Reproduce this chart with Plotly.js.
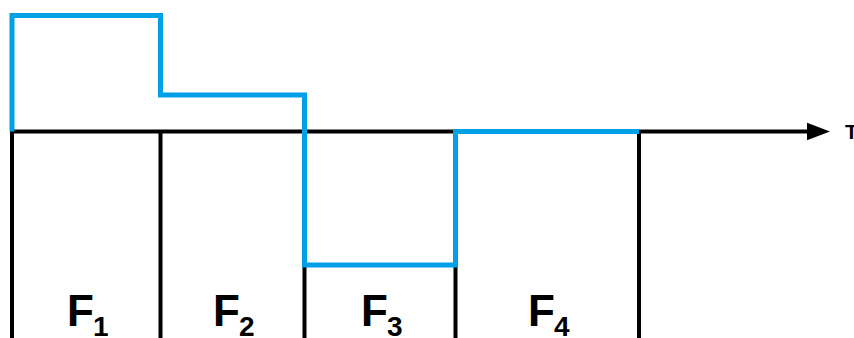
<!DOCTYPE html>
<html>
<head>
<meta charset="utf-8">
<script src="https://cdn.plot.ly/plotly-3.0.1.min.js"></script>
<style>
  html, body { margin: 0; padding: 0; background: #fff; }
  #chart { width: 854px; height: 338px; }
</style>
</head>
<body>
<div id="chart"></div>
<script>
// time boundaries of the four intervals (1 unit ~ 1 px)
var bounds = [0, 148.5, 292.5, 443.5, 627];
// level of the signal in each interval
var levels = [116, 36.5, -133.5, 0];
var labelMain = ['F', 'F', 'F', 'F'];
var labelSub = ['1', '2', '3', '4'];
var axisName = 'T';

// step trace: start on the axis, then one step per interval
var stepX = [bounds[0]].concat(bounds);
var stepY = [0].concat(levels, [levels[levels.length - 1]]);

// vertical separators under the axis
var sepX = [], sepY = [];
bounds.forEach(function(b) {
  sepX.push(b, b, null);
  sepY.push(0, -230, null);
});

var traces = [
  {
    x: sepX, y: sepY,
    mode: 'lines', type: 'scatter',
    line: {color: '#000', width: 4},
    hoverinfo: 'skip'
  },
  {
    x: stepX, y: stepY,
    mode: 'lines', type: 'scatter',
    line: {color: '#00a0e6', width: 5, shape: 'hv'},
    hoverinfo: 'skip'
  }
];

var fontFam = 'Liberation Sans, Arial, sans-serif';
var annotations = [];
labelMain.forEach(function(t, i) {
  var mid = (bounds[i] + bounds[i + 1]) / 2;
  annotations.push({
    x: mid - 6, y: -179, xref: 'x', yref: 'y',
    text: '<b>' + t + '</b>', showarrow: false,
    xanchor: 'center', yanchor: 'middle',
    font: {family: fontFam, size: 44, color: '#000'}
  });
  annotations.push({
    x: mid + 14.5, y: -195, xref: 'x', yref: 'y',
    text: '<b>' + labelSub[i] + '</b>', showarrow: false,
    xanchor: 'center', yanchor: 'middle',
    font: {family: fontFam, size: 28, color: '#000'}
  });
});
annotations.push({
  x: 831, y: 0, xref: 'x', yref: 'y',
  text: '<b>' + axisName + '</b>',
  showarrow: false, xanchor: 'left', yanchor: 'middle',
  font: {family: fontFam, size: 21, color: '#000'}
});

var layout = {
  width: 854, height: 338,
  margin: {l: 0, r: 0, t: 0, b: 0},
  paper_bgcolor: '#fff', plot_bgcolor: '#fff',
  showlegend: false,
  xaxis: {range: [-12, 842], visible: false, fixedrange: true},
  yaxis: {range: [-206.5, 131.5], visible: false, fixedrange: true},
  shapes: [
    // time axis with arrow head
    {type: 'line', xref: 'x', yref: 'y', x0: -2, x1: 800, y0: 0, y1: 0,
     line: {color: '#000', width: 4}, layer: 'below'},
    {type: 'path', xref: 'x', yref: 'y', path: 'M 795,-8.7 L 818,0 L 795,8.7 Z',
     fillcolor: '#000', line: {width: 0}, layer: 'below'}
  ],
  annotations: annotations
};

Plotly.newPlot('chart', traces, layout, {staticPlot: true, displayModeBar: false});
</script>
</body>
</html>
